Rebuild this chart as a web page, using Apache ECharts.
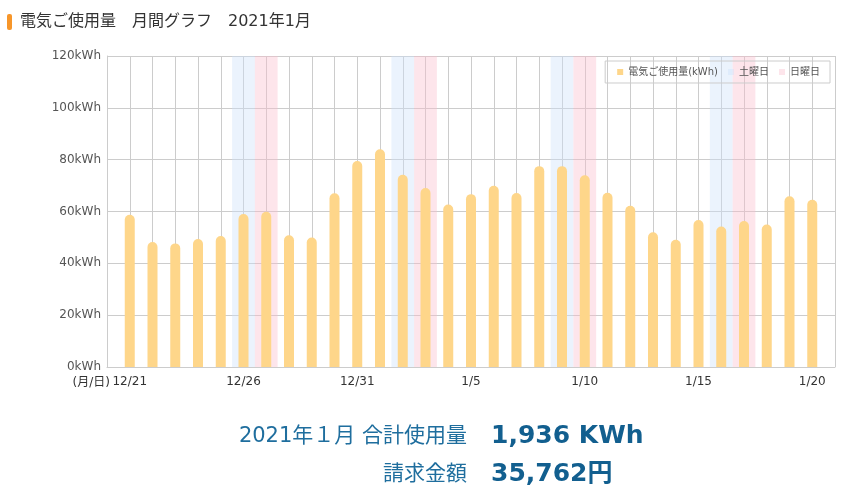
<!DOCTYPE html>
<html><head><meta charset="utf-8">
<script src="https://cdn.jsdelivr.net/npm/echarts@6/dist/echarts.min.js"></script>
<style>html,body{margin:0;padding:0;background:#fff}#c{width:854px;height:490px}</style>
</head><body><div id="c"></div>
<script>
const days = ['12/21','12/22','12/23','12/24','12/25','12/26','12/27','12/28','12/29','12/30','12/31',
  '1/1','1/2','1/3','1/4','1/5','1/6','1/7','1/8','1/9','1/10','1/11','1/12','1/13','1/14','1/15','1/16','1/17','1/18','1/19','1/20'];
const usage = [58.7,48.2,47.7,49.4,50.5,59.0,59.9,50.8,50.0,67.0,79.5,
  84.0,74.2,69.1,62.7,66.7,69.9,67.1,77.5,77.5,74.0,67.2,62.2,52.0,49.1,56.7,54.2,56.3,55.0,65.9,64.5];
const tickLabels = ['12/21','12/26','12/31','1/5','1/10','1/15','1/20'];
const saturdays = ['12/26','1/2','1/9','1/16'];
const sundays = ['12/27','1/3','1/10','1/17'];
const yTicks = [0,20,40,60,80,100,120];
const titleText = '電気ご使用量　月間グラフ　2021年1月';
const totalLabel = '2021年１月 合計使用量';
const totalValue = '1,936 KWh';
const billLabel = '請求金額';
const billValue = '35,762円';

const FONT = '"DejaVu Sans", "Noto Sans CJK JP", sans-serif';
const chart = echarts.init(document.getElementById('c'), null, {renderer:'canvas'});
function bands(list){
  return list.map(d => { const i = days.indexOf(d) + 1; return [{xAxis: i - 0.5}, {xAxis: i + 0.5}]; });
}
chart.setOption({
  animation:false,
  textStyle:{fontFamily:FONT},
  grid:{left:107, right:19, top:56, bottom:123},
  legend:{
    right:24, top:61, icon:'rect', itemWidth:6, itemHeight:6, itemGap:10,
    padding:[6,10,6,12], borderColor:'#ccc', borderWidth:1,
    textStyle:{fontSize:10, color:'#555', fontFamily:FONT},
    data:['電気ご使用量(kWh)','土曜日','日曜日']
  },
  xAxis:{
    type:'value', min:0, max:days.length+1, interval:1,
    axisLine:{show:true, lineStyle:{color:'#ccc'}},
    axisTick:{show:false},
    splitLine:{show:true, lineStyle:{color:'#ccc'}},
    axisLabel:{margin:9, color:'#333', fontSize:12, fontFamily:FONT, showMinLabel:true, showMaxLabel:true,
      formatter: v => { const d = days[v-1]; return (d && tickLabels.includes(d)) ? d : ''; }}
  },
  yAxis:{
    type:'value', min:yTicks[0], max:yTicks[yTicks.length-1], interval:20,
    axisLine:{show:true, lineStyle:{color:'#ccc'}},
    axisTick:{show:false},
    splitLine:{lineStyle:{color:'#ccc'}},
    axisLabel:{margin:6, color:'#555', fontSize:12, fontFamily:FONT, formatter:'{value}kWh'}
  },
  series:[
    {name:'土曜日', type:'line', data:[], itemStyle:{color:'rgba(205,225,250,0.4)'},
      markArea:{silent:true, itemStyle:{color:'rgba(205,225,250,0.4)'}, data:bands(saturdays)}},
    {name:'日曜日', type:'line', data:[], itemStyle:{color:'rgba(250,190,205,0.4)'},
      markArea:{silent:true, itemStyle:{color:'rgba(250,190,205,0.4)'}, data:bands(sundays)}},
    {name:'電気ご使用量(kWh)', type:'bar', z:5, barWidth:10,
      itemStyle:{color:'#FED68A', borderRadius:[5,5,0,0]},
      data: usage.map((v,i)=>[i+1, v])}
  ],
  graphic:[
    {type:'rect', shape:{x:7, y:14, width:5, height:16, r:2}, style:{fill:'#F7962A'}},
    {type:'text', x:20, y:22, style:{text:titleText, font:'16px '+FONT, fill:'#333', verticalAlign:'middle'}},
    {type:'text', x:110, y:383, style:{text:'(月/日)', font:'12px '+FONT, fill:'#333', align:'right', verticalAlign:'middle'}},
    {type:'text', x:467, y:437, style:{text:totalLabel, font:'21px '+FONT, fill:'#1f6e9e', align:'right', verticalAlign:'middle'}},
    {type:'text', x:491, y:436, style:{text:totalValue, font:'bold 25px '+FONT, fill:'#125f8f', align:'left', verticalAlign:'middle'}},
    {type:'text', x:467, y:475, style:{text:billLabel, font:'21px '+FONT, fill:'#1f6e9e', align:'right', verticalAlign:'middle'}},
    {type:'text', x:491, y:474, style:{text:billValue, font:'bold 25px '+FONT, fill:'#125f8f', align:'left', verticalAlign:'middle'}}
  ]
});
</script></body></html>
